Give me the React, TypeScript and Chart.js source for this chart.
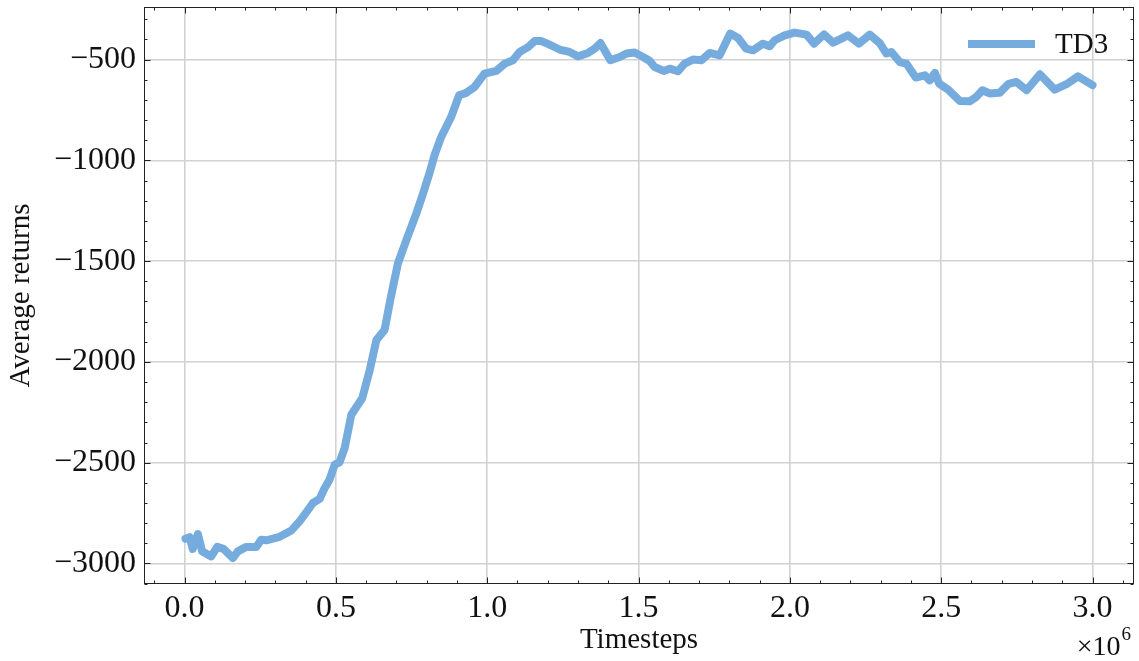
import React, { useEffect, useRef } from 'react';
import { Chart, registerables } from 'chart.js';

Chart.register(...registerables);

// Timesteps in units of 1e6
const timesteps = [
  0.003, 0.017, 0.027, 0.044, 0.058, 0.088, 0.108, 0.129, 0.160, 0.176,
  0.204, 0.237, 0.253, 0.270, 0.314, 0.353, 0.380, 0.402, 0.424, 0.446,
  0.463, 0.479, 0.496, 0.512, 0.529, 0.551, 0.587, 0.612, 0.634, 0.661,
  0.680, 0.705, 0.733, 0.766, 0.788, 0.809, 0.826, 0.848, 0.881, 0.907,
  0.931, 0.958, 0.991, 1.030, 1.058, 1.085, 1.107, 1.135, 1.157, 1.179,
  1.206, 1.239, 1.272, 1.300, 1.333, 1.355, 1.374, 1.407, 1.438, 1.460,
  1.487, 1.515, 1.537, 1.553, 1.583, 1.603, 1.630, 1.652, 1.680, 1.708,
  1.735, 1.768, 1.803, 1.829, 1.856, 1.878, 1.911, 1.933, 1.950, 1.983,
  2.016, 2.055, 2.080, 2.113, 2.143, 2.192, 2.228, 2.264, 2.297, 2.319,
  2.335, 2.363, 2.385, 2.416, 2.446, 2.462, 2.479, 2.493, 2.523, 2.561,
  2.594, 2.616, 2.636, 2.660, 2.693, 2.721, 2.748, 2.782, 2.826, 2.875,
  2.914, 2.952, 3.000,
];

const td3Returns = [
  -2878, -2870, -2928, -2854, -2940, -2965, -2918, -2928, -2973, -2940,
  -2918, -2918, -2882, -2885, -2868, -2836, -2791, -2747, -2700, -2680,
  -2626, -2585, -2510, -2499, -2428, -2262, -2180, -2040, -1891, -1841,
  -1690, -1511, -1395, -1263, -1164, -1065, -974, -884, -784, -677,
  -665, -636, -570, -556, -520, -503, -462, -438, -408, -408,
  -426, -450, -462, -484, -467, -446, -418, -503, -487, -470,
  -465, -487, -507, -537, -556, -545, -558, -520, -500, -503,
  -467, -479, -371, -393, -446, -454, -421, -434, -404, -380,
  -366, -376, -421, -375, -416, -380, -421, -376, -418, -470,
  -462, -512, -520, -589, -578, -603, -566, -619, -649, -705,
  -707, -685, -652, -668, -665, -622, -611, -652, -573, -649,
  -622, -583, -627,
];

const xTicks = [0.0, 0.5, 1.0, 1.5, 2.0, 2.5, 3.0];
const yTicks = [-3000, -2500, -2000, -1500, -1000, -500];
const seriesLabel = 'TD3';
const xTitle = 'Timesteps';
const yTitle = 'Average returns';
const xOffsetBase = '×10';
const xOffsetExp = '6';

const X_MIN = -0.134;
const X_MAX = 3.137;
const Y_MIN = -3102;
const Y_MAX = -239;

const LINE_COLOR = '#76abde';
const GRID_COLOR = '#d2d2d2';
const SERIF = '"Liberation Serif", "DejaVu Serif", serif';

const decorPlugin = {
  id: 'decor',
  afterDraw(chart: any) {
    const { ctx, chartArea: a, scales } = chart;
    const xs = scales.x;
    const ys = scales.y;
    ctx.save();
    ctx.strokeStyle = '#222';
    ctx.lineWidth = 1;
    const L = Math.round(a.left) + 0.5;
    const R = Math.round(a.right) - 0.5;
    const T = Math.round(a.top) + 0.5;
    const B = Math.round(a.bottom) - 0.5;
    ctx.strokeRect(L, T, R - L, B - T);

    const major = 6;
    const minor = 3;
    ctx.beginPath();
    for (let i = -1; i <= 31; i++) {
      const v = i / 10;
      if (v < X_MIN || v > X_MAX) continue;
      const px = Math.round(xs.getPixelForValue(v)) + 0.5;
      const len = i % 5 === 0 ? major : minor;
      ctx.moveTo(px, B);
      ctx.lineTo(px, B - len);
      ctx.moveTo(px, T);
      ctx.lineTo(px, T + len);
    }
    for (let i = -31; i <= -2; i++) {
      const v = i * 100;
      if (v < Y_MIN || v > Y_MAX) continue;
      const py = Math.round(ys.getPixelForValue(v)) + 0.5;
      const len = i % 5 === 0 ? major : minor;
      ctx.moveTo(L, py);
      ctx.lineTo(L + len, py);
      ctx.moveTo(R, py);
      ctx.lineTo(R - len, py);
    }
    ctx.stroke();

    // legend
    ctx.strokeStyle = LINE_COLOR;
    ctx.lineWidth = 8;
    ctx.lineCap = 'butt';
    ctx.beginPath();
    ctx.moveTo(968, 44);
    ctx.lineTo(1035, 44);
    ctx.stroke();
    ctx.fillStyle = '#111';
    ctx.font = `29px ${SERIF}`;
    ctx.textBaseline = 'middle';
    ctx.textAlign = 'left';
    ctx.fillText(seriesLabel, 1055, 45);

    // offset text x10^6
    ctx.font = `28px ${SERIF}`;
    ctx.textBaseline = 'alphabetic';
    const baseW = ctx.measureText(xOffsetBase).width;
    ctx.font = `19px ${SERIF}`;
    const expW = ctx.measureText(xOffsetExp).width;
    const right = 1131;
    const startX = right - expW - baseW - 1;
    ctx.font = `28px ${SERIF}`;
    ctx.fillText(xOffsetBase, startX, 655);
    ctx.font = `19px ${SERIF}`;
    ctx.fillText(xOffsetExp, startX + baseW + 1, 640);
    ctx.restore();
  },
};

export default function App() {
  const ref = useRef<HTMLCanvasElement | null>(null);

  useEffect(() => {
    if (!ref.current) return;
    const points = timesteps.map((t, i) => ({ x: t, y: td3Returns[i] }));
    const chart = new Chart(ref.current, {
      type: 'line',
      data: {
        datasets: [
          {
            label: seriesLabel,
            data: points,
            borderColor: LINE_COLOR,
            backgroundColor: LINE_COLOR,
            borderWidth: 8,
            pointRadius: 0,
            tension: 0,
            borderCapStyle: 'round',
            borderJoinStyle: 'round',
            fill: false,
          },
        ],
      },
      options: {
        animation: false,
        responsive: false,
        maintainAspectRatio: false,
        layout: { padding: { top: 7, right: 5, left: 0, bottom: 0 } },
        plugins: {
          legend: { display: false },
          tooltip: { enabled: false },
        },
        scales: {
          x: {
            type: 'linear',
            min: X_MIN,
            max: X_MAX,
            afterBuildTicks: (axis: any) => {
              axis.ticks = xTicks.map((v) => ({ value: v }));
            },
            afterFit: (axis: any) => {
              axis.height = 77;
              axis.paddingLeft = 0;
              axis.paddingRight = 0;
              axis.paddingTop = 0;
              axis.paddingBottom = 0;
            },
            ticks: {
              callback: (v: any) => Number(v).toFixed(1),
              font: { family: SERIF, size: 32 },
              color: '#111',
              padding: 5,
              maxRotation: 0,
              autoSkip: false,
            },
            grid: {
              color: GRID_COLOR,
              lineWidth: 1.6,
              drawTicks: false,
            },
            border: { display: false },
            title: {
              display: true,
              text: xTitle,
              font: { family: SERIF, size: 29 },
              color: '#111',
              padding: 3,
            },
          },
          y: {
            type: 'linear',
            min: Y_MIN,
            max: Y_MAX,
            afterBuildTicks: (axis: any) => {
              axis.ticks = yTicks.map((v) => ({ value: v }));
            },
            afterFit: (axis: any) => {
              axis.width = 144;
              axis.paddingLeft = 0;
              axis.paddingRight = 0;
              axis.paddingTop = 0;
              axis.paddingBottom = 0;
            },
            ticks: {
              callback: (v: any) => (Number(v) < 0 ? '\u2212' + Math.abs(Number(v)) : String(v)),
              font: { family: SERIF, size: 32 },
              color: '#111',
              padding: 8,
              autoSkip: false,
            },
            grid: {
              color: GRID_COLOR,
              lineWidth: 1.6,
              drawTicks: false,
            },
            border: { display: false },
            title: {
              display: true,
              text: yTitle,
              font: { family: SERIF, size: 29 },
              color: '#111',
              padding: 4,
            },
          },
        },
      },
      plugins: [decorPlugin],
    });
    return () => chart.destroy();
  }, []);

  return (
    <div style={{ position: 'fixed', left: 0, top: 0, width: 1139, height: 661, background: '#fff' }}>
      <canvas ref={ref} width={1139} height={661} style={{ display: 'block' }} />
    </div>
  );
}
